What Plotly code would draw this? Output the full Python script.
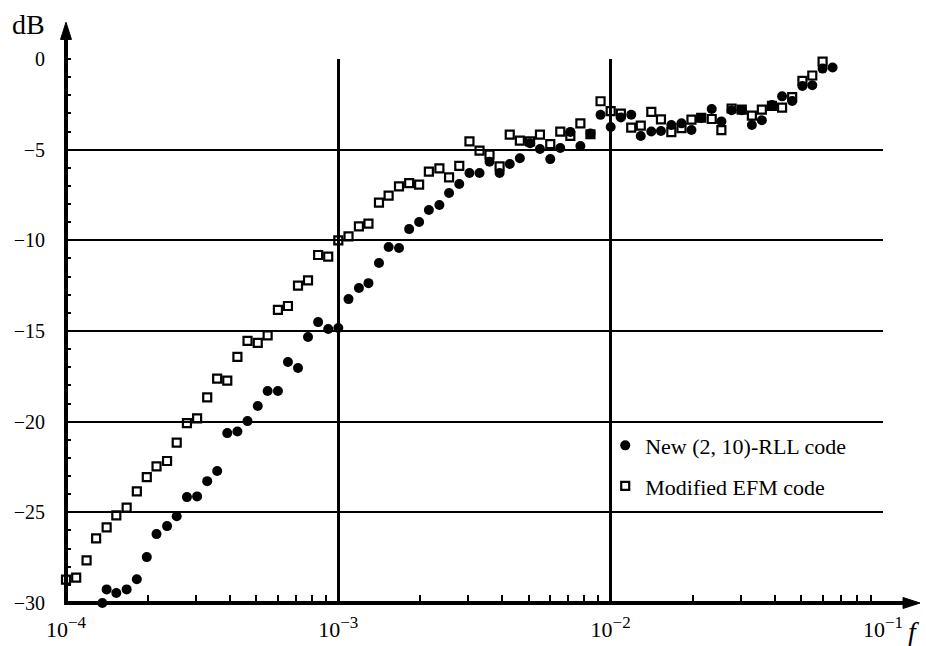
import plotly.graph_objects as go

# Frequencies (normalized)
efm_f = [1.00e-4, 1.09e-4, 1.19e-4, 1.29e-4, 1.41e-4, 1.53e-4, 1.67e-4, 1.82e-4, 1.98e-4,
         2.15e-4, 2.35e-4, 2.55e-4, 2.78e-4, 3.03e-4, 3.30e-4, 3.59e-4, 3.91e-4, 4.26e-4,
         4.64e-4, 5.06e-4, 5.50e-4, 6.00e-4, 6.53e-4, 7.11e-4, 7.74e-4, 8.43e-4, 9.18e-4,
         1.00e-3, 1.09e-3, 1.19e-3, 1.29e-3, 1.41e-3, 1.53e-3, 1.67e-3, 1.82e-3, 1.98e-3,
         2.15e-3, 2.35e-3, 2.55e-3, 2.78e-3, 3.03e-3, 3.30e-3, 3.59e-3, 3.91e-3, 4.26e-3,
         4.64e-3, 5.06e-3, 5.50e-3, 6.00e-3, 6.53e-3, 7.11e-3, 7.74e-3, 8.43e-3, 9.18e-3,
         1.00e-2, 1.09e-2, 1.19e-2, 1.29e-2, 1.41e-2, 1.53e-2, 1.67e-2, 1.82e-2, 1.98e-2,
         2.15e-2, 2.35e-2, 2.55e-2, 2.78e-2, 3.03e-2, 3.30e-2, 3.59e-2, 3.91e-2, 4.26e-2,
         4.64e-2, 5.06e-2, 5.50e-2, 6.00e-2]
efm_db = [-28.71, -28.60, -27.65, -26.44, -25.83, -25.17, -24.74, -23.84, -23.06,
          -22.47, -22.17, -21.16, -20.08, -19.82, -18.66, -17.63, -17.74, -16.43,
          -15.55, -15.66, -15.24, -13.83, -13.62, -12.50, -12.21, -10.81, -10.90,
          -10.00, -9.78, -9.23, -9.08, -7.92, -7.53, -7.02, -6.84, -6.93,
          -6.21, -6.03, -6.53, -5.89, -4.54, -5.05, -5.27, -5.92, -4.17,
          -4.50, -4.54, -4.17, -4.69, -4.00, -4.24, -3.55, -4.15, -2.33,
          -2.87, -3.01, -3.78, -3.67, -2.92, -3.33, -4.03, -3.81, -3.34,
          -3.24, -3.31, -3.92, -2.73, -2.79, -3.12, -2.79, -2.59, -2.68,
          -2.10, -1.21, -0.91, -0.15]

rll_f = [1.36e-4, 1.41e-4, 1.53e-4, 1.67e-4, 1.82e-4, 1.98e-4,
         2.15e-4, 2.35e-4, 2.55e-4, 2.78e-4, 3.03e-4, 3.30e-4, 3.59e-4, 3.91e-4, 4.26e-4,
         4.64e-4, 5.06e-4, 5.50e-4, 6.00e-4, 6.53e-4, 7.11e-4, 7.74e-4, 8.43e-4, 9.18e-4,
         1.00e-3, 1.09e-3, 1.19e-3, 1.29e-3, 1.41e-3, 1.53e-3, 1.67e-3, 1.82e-3, 1.98e-3,
         2.15e-3, 2.35e-3, 2.55e-3, 2.78e-3, 3.03e-3, 3.30e-3, 3.59e-3, 3.91e-3, 4.26e-3,
         4.64e-3, 5.06e-3, 5.50e-3, 6.00e-3, 6.53e-3, 7.11e-3, 7.74e-3, 8.43e-3, 9.18e-3,
         1.00e-2, 1.09e-2, 1.19e-2, 1.29e-2, 1.41e-2, 1.53e-2, 1.67e-2, 1.82e-2, 1.98e-2,
         2.15e-2, 2.35e-2, 2.55e-2, 2.78e-2, 3.03e-2, 3.30e-2, 3.59e-2, 3.91e-2, 4.26e-2,
         4.64e-2, 5.06e-2, 5.50e-2, 6.00e-2, 6.53e-2]
rll_db = [-30.00, -29.25, -29.45, -29.25, -28.69, -27.47,
          -26.20, -25.76, -25.22, -24.16, -24.12, -23.28, -22.72, -20.63, -20.54,
          -19.97, -19.14, -18.31, -18.31, -16.71, -17.04, -15.33, -14.51, -14.89,
          -14.83, -13.24, -12.63, -12.36, -11.25, -10.37, -10.42, -9.38, -8.99,
          -8.33, -8.05, -7.39, -6.89, -6.29, -6.29, -5.67, -6.29, -5.79,
          -5.47, -4.65, -4.96, -5.52, -4.91, -4.02, -4.80, -4.11, -3.08,
          -3.75, -3.23, -3.07, -4.25, -4.00, -3.97, -3.64, -3.55, -3.92,
          -3.25, -2.76, -3.44, -2.83, -2.83, -3.64, -3.38, -2.54, -2.06,
          -2.32, -1.49, -1.45, -0.53, -0.47]

x_ticks = [1e-4, 1e-3, 1e-2, 1e-1]
x_exps = ["\u22124", "\u22123", "\u22122", "\u22121"]
x_minor = [k * d for d in (1e-4, 1e-3, 1e-2) for k in range(2, 10)]
y_ticks = [0, -5, -10, -15, -20, -25, -30]

FONT = "Liberation Serif"
x_ticktext = ["10<sup><span style='font-size:17px'>%s</span></sup>" % e for e in x_exps]

fig = go.Figure()
fig.add_trace(go.Scatter(
    x=rll_f, y=rll_db, mode="markers", name="New (2, 10)-RLL code",
    marker=dict(symbol="circle", size=10, color="black"),
    cliponaxis=False, legendgroup="a"))
fig.add_trace(go.Scatter(
    x=efm_f, y=efm_db, mode="markers", name="Modified EFM code",
    marker=dict(symbol="square-open", size=8, color="black", line=dict(width=2.2, color="black")),
    cliponaxis=False, legendgroup="b"))

fig.update_layout(
    width=926, height=646,
    margin=dict(l=66, r=43, t=59, b=43),
    plot_bgcolor="white", paper_bgcolor="white",
    font=dict(family=FONT, size=20, color="black"),
    showlegend=True,
    legend=dict(x=0.660, y=0.328, xanchor="left", yanchor="top",
                bgcolor="rgba(0,0,0,0)", font=dict(size=22, family=FONT),
                traceorder="grouped", tracegroupgap=9, itemwidth=30),
    xaxis=dict(type="log", range=[-4, -1], tickvals=x_ticks, ticktext=x_ticktext,
               showgrid=True, gridcolor="black", gridwidth=3, zeroline=False,
               showline=False, ticks="", ticklabelstandoff=11, automargin=False,
               tickfont=dict(size=22, family=FONT),
               minor=dict(tickvals=x_minor, ticks="inside", ticklen=8, tickwidth=1.6,
                          tickcolor="black", showgrid=False)),
    yaxis=dict(range=[-30, 0], tickvals=y_ticks, showgrid=True, gridcolor="black",
               gridwidth=2, zeroline=False, showline=False, ticks="", automargin=False,
               ticklabelstandoff=20, tickfont=dict(size=20, family=FONT),
               minor=dict(dtick=1, ticks="inside", ticklen=5, tickwidth=1.6,
                          tickcolor="black", showgrid=False)),
)

# axis lines with arrow heads
fig.add_shape(type="line", xref="paper", yref="paper", x0=0, x1=0, y0=-0.003, y1=1.045,
              line=dict(color="black", width=4))
fig.add_shape(type="path", xref="paper", yref="paper",
              path="M 0 1.0675 L -0.0067 1.036 L 0.0067 1.036 Z",
              fillcolor="black", line=dict(color="black", width=1))
fig.add_shape(type="line", xref="paper", yref="paper", x0=-0.002, x1=1.03, y0=0, y1=0,
              line=dict(color="black", width=4))
fig.add_shape(type="path", xref="paper", yref="paper",
              path="M 1.0453 0 L 1.0245 -0.0101 L 1.0245 0.0101 Z",
              fillcolor="black", line=dict(color="black", width=1))

fig.add_annotation(text="dB", xref="paper", yref="paper", x=-0.023, y=1.064,
                   xanchor="right", yanchor="middle", showarrow=False,
                   font=dict(size=28, family=FONT))
fig.add_annotation(text="<i>f</i>", xref="paper", yref="paper", x=1.028, y=-0.052,
                   xanchor="left", yanchor="middle", showarrow=False,
                   font=dict(size=28, family=FONT))

fig.write_html("out.html", config={"displayModeBar": False},
               post_script="document.body.style.margin='0px';")
